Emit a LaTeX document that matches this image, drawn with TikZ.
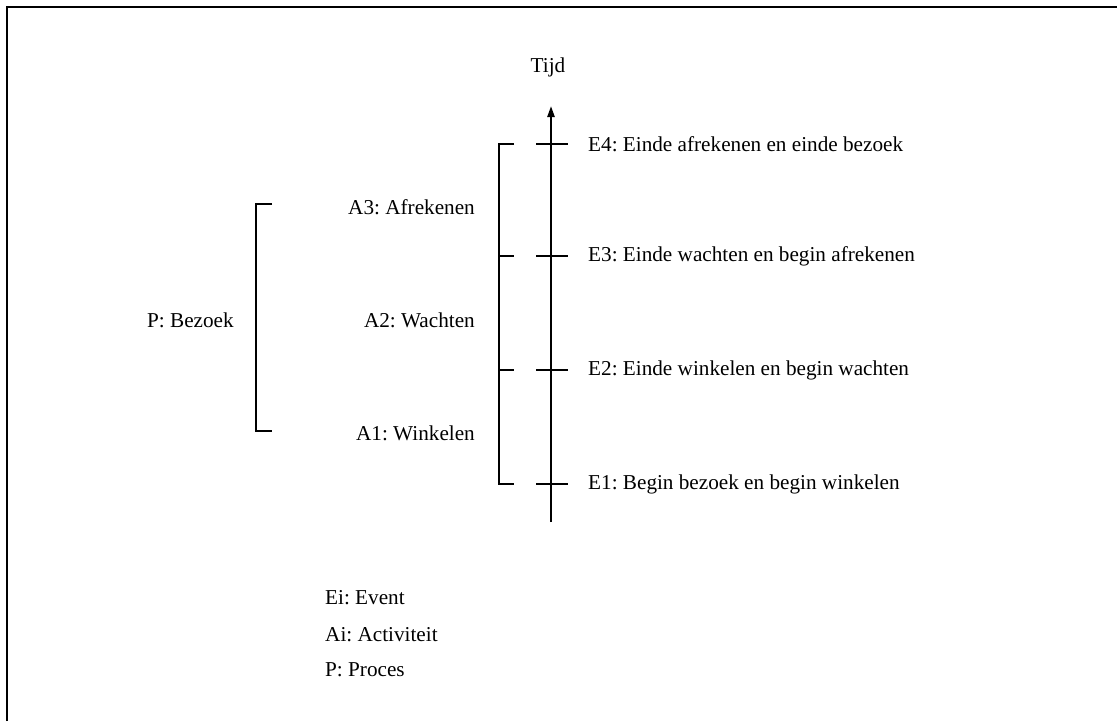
\documentclass[tikz,border=0pt]{standalone}
\usepackage{fontspec}
\setmainfont{Liberation Serif}
\usetikzlibrary{arrows.meta}
\begin{document}
\frenchspacing
\begin{tikzpicture}[x=1pt,y=-1pt,
  lbl/.style={inner sep=0pt,font=\fontsize{21.2}{25}\selectfont},
  axisline/.style={line width=2.3pt,-{Triangle[length=11pt,width=7pt]}},
  tick/.style={line width=2.3pt},
  bracket/.style={line width=2.3pt},
  pbracket/.style={line width=1.8pt}]
\useasboundingbox (0,0) rectangle (1117,721);
% outer frame (open to the right and bottom)
\draw[line width=2.2pt] (7,721) -- (7,7) -- (1117,7);

% time axis
\coordinate (t0) at (551,522);
\coordinate (t1) at (551,106);
\draw[axisline] (t0) -- (t1);
\node[lbl] (tijd) at (548,67) {Tijd};

% events on the axis
\foreach \n/\y in {1/484,2/370,3/256,4/144}{
  \coordinate (el\n) at (536,\y);
  \coordinate (er\n) at (568,\y);
  \draw[tick] (el\n) -- (er\n);
}
\node[lbl,anchor=west] (e4) at (588,144) {E4: Einde afrekenen en einde bezoek};
\node[lbl,anchor=west] (e3) at (588,256) {E3: Einde wachten en begin afrekenen};
\node[lbl,anchor=west] (e2) at (588,370) {E2: Einde winkelen en begin wachten};
\node[lbl,anchor=west] (e1) at (588,484) {E1: Begin bezoek en begin winkelen};

% activity bracket
\coordinate (b4) at (514,144);
\coordinate (b4c) at (499,144);
\coordinate (b1c) at (499,484);
\coordinate (b1) at (514,484);
\draw[bracket] (b4) -- (b4c) -- (b1c) -- (b1);
\coordinate (b3c) at (499,256);
\coordinate (b3) at (514,256);
\coordinate (b2c) at (499,370);
\coordinate (b2) at (514,370);
\draw[bracket] (b3c) -- (b3);
\draw[bracket] (b2c) -- (b2);

\node[lbl,anchor=east] (a3) at (475,207) {A3: Afrekenen};
\node[lbl,anchor=east] (a2) at (475,320) {A2: Wachten};
\node[lbl,anchor=east] (a1) at (475,433) {A1: Winkelen};

% process bracket
\coordinate (p1) at (272,204);
\coordinate (p1c) at (256,204);
\coordinate (p2c) at (256,431);
\coordinate (p2) at (272,431);
\draw[pbracket] (p1) -- (p1c) -- (p2c) -- (p2);
\node[lbl,anchor=west] (p) at (147,320) {P: Bezoek};

% legend
\node[lbl,anchor=west] (lg1) at (325,598) {Ei: Event};
\node[lbl,anchor=west] (lg2) at (325,635) {Ai: Activiteit};
\node[lbl,anchor=west] (lg3) at (325,670) {P: Proces};
\end{tikzpicture}
\end{document}
